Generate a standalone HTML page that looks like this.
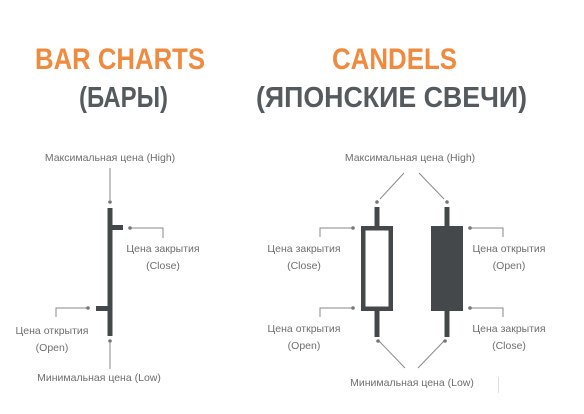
<!DOCTYPE html>
<html><head><meta charset="utf-8"><style>
html,body{margin:0;padding:0;background:#fff;}
svg{display:block;}
text{font-family:"Liberation Sans","DejaVu Sans",sans-serif;}
.l{font-size:10.5px;fill:#6e6e6e;text-anchor:middle;}
</style></head><body>
<svg width="584" height="414" viewBox="0 0 584 414" xmlns="http://www.w3.org/2000/svg">
<rect width="584" height="414" fill="#fff"/>
<!-- titles -->
<text x="35" y="69" font-size="30" font-weight="bold" fill="#ef8a3e" textLength="170" lengthAdjust="spacingAndGlyphs">BAR CHARTS</text>
<text x="79" y="107" font-size="29" font-weight="bold" fill="#555a5f" textLength="89" lengthAdjust="spacingAndGlyphs">(БАРЫ)</text>
<text x="332" y="69" font-size="30" font-weight="bold" fill="#ef8a3e" textLength="125" lengthAdjust="spacingAndGlyphs">CANDELS</text>
<text x="256" y="107" font-size="29" font-weight="bold" fill="#555a5f" textLength="271" lengthAdjust="spacingAndGlyphs">(ЯПОНСКИЕ СВЕЧИ)</text>

<g stroke="#8a8a8a" stroke-width="1" fill="none">
<line x1="110" y1="168" x2="110" y2="200"/>
<line x1="110" y1="343" x2="110" y2="369"/>
<polyline points="130,228 163,228 163,238"/>
<polyline points="88,308 56,308 56,317"/>
<line x1="404" y1="173" x2="380" y2="199"/>
<line x1="419" y1="173" x2="444" y2="199"/>
<line x1="379" y1="341" x2="405" y2="368"/>
<line x1="444" y1="341" x2="418" y2="368"/>
<polyline points="353,228 320,228 320,237"/>
<polyline points="353,308 320,308 320,317"/>
<polyline points="470,228 503,228 503,237"/>
<polyline points="470,308 503,308 503,317"/>
</g>
<g fill="#777">
<circle cx="110" cy="202" r="1.8"/><circle cx="110" cy="341" r="1.8"/>
<circle cx="130" cy="228" r="1.8"/><circle cx="88" cy="308" r="1.8"/>
<circle cx="377" cy="202" r="1.8"/><circle cx="447" cy="202" r="1.8"/>
<circle cx="378" cy="341" r="1.8"/><circle cx="445" cy="341" r="1.8"/>
<circle cx="353" cy="228" r="1.8"/><circle cx="353" cy="308" r="1.8"/>
<circle cx="470" cy="228" r="1.8"/><circle cx="470" cy="308" r="1.8"/>
</g>
<g fill="#45484b">
<rect x="107.5" y="208" width="5" height="128"/>
<rect x="112" y="225" width="11" height="5"/>
<rect x="96" y="306" width="12" height="5"/>
<rect x="374.5" y="207" width="5" height="20"/>
<rect x="374.5" y="310" width="5" height="27"/>
<rect x="444.5" y="207" width="5" height="20"/>
<rect x="444.5" y="310" width="5" height="27"/>
<rect x="431" y="226" width="32" height="85"/>
</g>
<rect x="363.25" y="228.25" width="27.5" height="80.5" fill="#fff" stroke="#45484b" stroke-width="4.5"/>

<text class="l" x="110" y="161">Максимальная цена (High)</text>
<text class="l" x="163" y="252">Цена закрытия</text>
<text class="l" x="163" y="269">(Close)</text>
<text class="l" x="52" y="334">Цена открытия</text>
<text class="l" x="52" y="351">(Open)</text>
<text class="l" x="99" y="381">Минимальная цена (Low)</text>

<text class="l" x="410" y="161">Максимальная цена (High)</text>
<text class="l" x="304" y="252">Цена закрытия</text>
<text class="l" x="304" y="269">(Close)</text>
<text class="l" x="304" y="332">Цена открытия</text>
<text class="l" x="304" y="349">(Open)</text>
<text class="l" x="509" y="252">Цена открытия</text>
<text class="l" x="509" y="269">(Open)</text>
<text class="l" x="509" y="332">Цена закрытия</text>
<text class="l" x="509" y="349">(Close)</text>
<text class="l" x="412" y="386">Минимальная цена (Low)</text>
<line x1="498.5" y1="377" x2="498.5" y2="393" stroke="#ddd" stroke-width="1"/>
</svg>
</body></html>
